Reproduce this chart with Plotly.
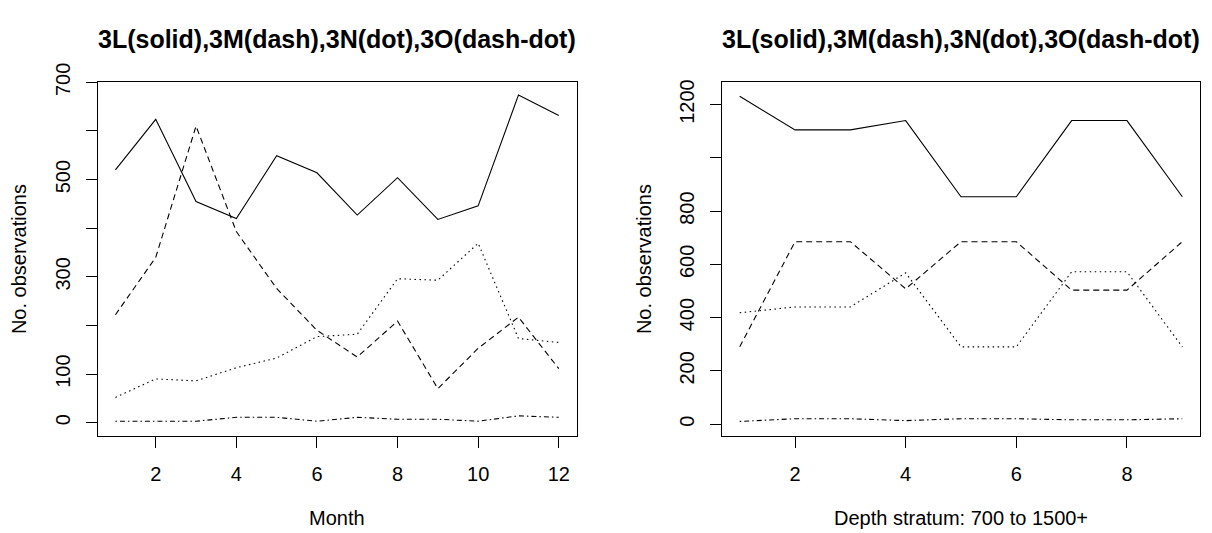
import plotly.graph_objects as go

W, H = 1212, 533

# ---- data: left panel (by month) ----
months = list(range(1, 13))
m_3L = [520, 624, 455, 420, 549, 514, 427, 504, 418, 446, 674, 632]
m_3M = [222, 340, 610, 393, 276, 190, 135, 209, 70, 153, 217, 111]
m_3N = [52, 90, 86, 113, 133, 177, 182, 296, 293, 369, 173, 165]
m_3O = [3, 3, 3, 11, 11, 3, 11, 7, 7, 3, 14, 11]

# ---- data: right panel (by depth stratum) ----
strata = list(range(1, 10))
d_3L = [1231, 1105, 1105, 1140, 854, 854, 1140, 1140, 854]
d_3M = [290, 685, 685, 508, 685, 685, 503, 503, 685]
d_3N = [418, 440, 440, 568, 290, 290, 572, 572, 290]
d_3O = [10, 20, 20, 13, 20, 20, 16, 16, 20]

left_yticks = [0, 100, 200, 300, 400, 500, 600, 700]
left_yticktext = ["0", "100", "", "300", "", "500", "", "700"]
right_yticks = [0, 200, 400, 600, 800, 1000, 1200]
right_yticktext = ["0", "200", "400", "600", "800", "", "1200"]
left_xticks = [2, 4, 6, 8, 10, 12]
right_xticks = [2, 4, 6, 8]

title_text = "3L(solid),3M(dash),3N(dot),3O(dash-dot)"

FONT = "Liberation Sans, Arial, sans-serif"
styles = ["solid", "6px,4px", "1.5px,3.5px", "1.5px,3px,5px,3px"]

fig = go.Figure()
for ys, dash in zip([m_3L, m_3M, m_3N, m_3O], styles):
    fig.add_trace(go.Scatter(x=months, y=ys, mode="lines", xaxis="x", yaxis="y",
                             line=dict(color="black", width=1.1, dash=dash),
                             showlegend=False, hoverinfo="skip"))
for ys, dash in zip([d_3L, d_3M, d_3N, d_3O], styles):
    fig.add_trace(go.Scatter(x=strata, y=ys, mode="lines", xaxis="x2", yaxis="y2",
                             line=dict(color="black", width=1.1, dash=dash),
                             showlegend=False, hoverinfo="skip"))

def px_x(p):
    return p / W

def px_y(p):
    return 1 - p / H

ydom = [px_y(432.2), px_y(65.0)]
axis_common = dict(showline=True, linecolor="black", linewidth=1, mirror=True,
                   ticks="outside", ticklen=11, tickwidth=1, tickcolor="black",
                   showgrid=False, zeroline=False,
                   tickfont=dict(family=FONT, size=20, color="black"))

fig.update_layout(
    width=W, height=H,
    margin=dict(l=0, r=0, t=0, b=0),
    paper_bgcolor="white", plot_bgcolor="white",
    xaxis=dict(domain=[px_x(97.7), px_x(576.5)], range=[0.56, 12.44],
               tickvals=left_xticks, anchor="y", ticklabelstandoff=9, **axis_common),
    yaxis=dict(domain=ydom, range=[-27, 701.4], tickvals=left_yticks,
               ticktext=left_yticktext, tickangle=-90, anchor="x",
               ticklabelstandoff=8, **axis_common),
    xaxis2=dict(domain=[px_x(722), px_x(1200)], range=[0.68, 9.32],
                tickvals=right_xticks, anchor="y2", ticklabelstandoff=9, **axis_common),
    yaxis2=dict(domain=ydom, range=[-44, 1286], tickvals=right_yticks,
                ticktext=right_yticktext, tickangle=-90, anchor="x2",
                ticklabelstandoff=8, **axis_common),
)

ann = []
# panel titles
for cx in [337, 961]:
    ann.append(dict(text="<b>" + title_text + "</b>", x=px_x(cx), y=px_y(21),
                    xref="paper", yref="paper", xanchor="center", yanchor="middle",
                    showarrow=False, font=dict(family=FONT, size=25, color="black")))
# x axis titles
ann.append(dict(text="Month", x=px_x(337), y=px_y(517), xref="paper", yref="paper",
                xanchor="center", yanchor="middle", showarrow=False,
                font=dict(family=FONT, size=20, color="black")))
ann.append(dict(text="Depth stratum: 700 to 1500+", x=px_x(961), y=px_y(517),
                xref="paper", yref="paper", xanchor="center", yanchor="middle",
                showarrow=False, font=dict(family=FONT, size=20, color="black")))
# y axis titles
for cx in [19, 644]:
    ann.append(dict(text="No. observations", x=px_x(cx), y=px_y(249), xref="paper",
                    yref="paper", xanchor="center", yanchor="middle", textangle=-90,
                    showarrow=False, font=dict(family=FONT, size=20, color="black")))
fig.update_layout(annotations=ann)

fig.write_html("out.html")
